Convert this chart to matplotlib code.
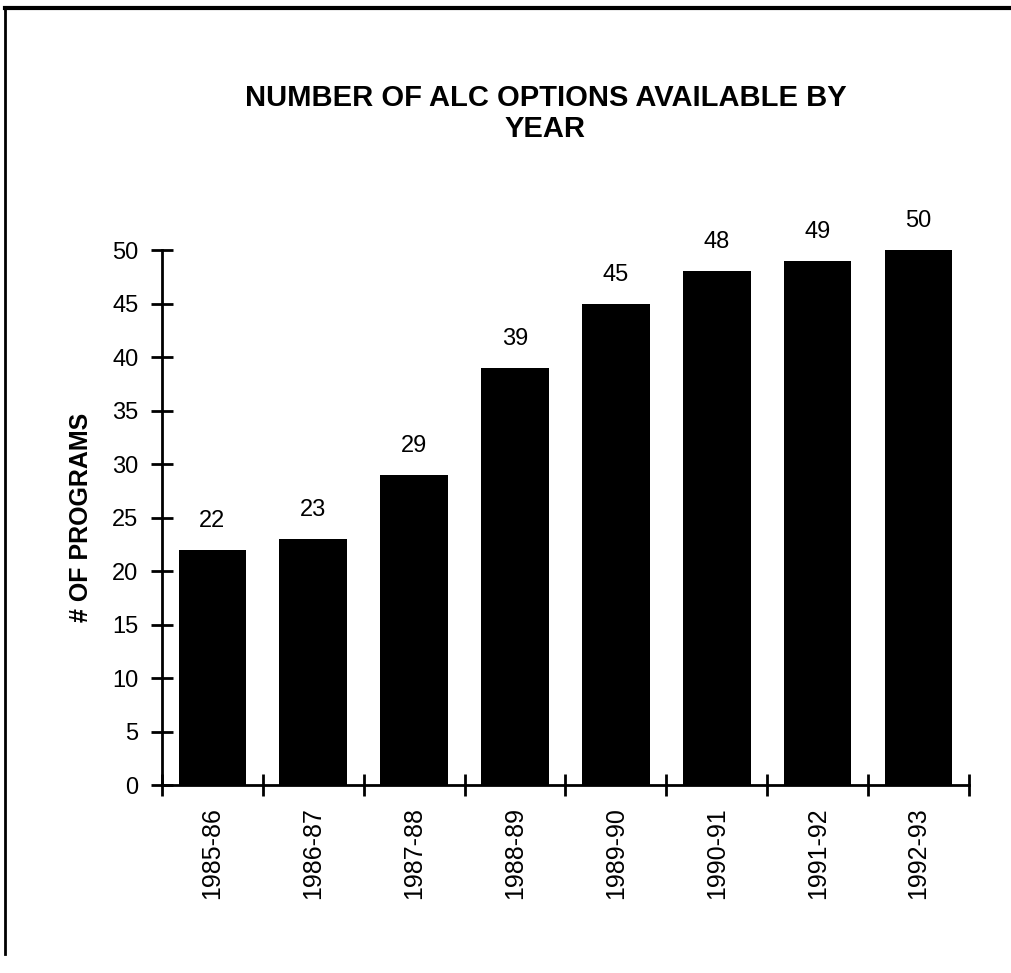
"""Number of ALC options available by year - bar chart recreation."""
import matplotlib
matplotlib.use("Agg")
import matplotlib.pyplot as plt
from matplotlib.lines import Line2D
import numpy as np

years = ["1985-86", "1986-87", "1987-88", "1988-89",
         "1989-90", "1990-91", "1991-92", "1992-93"]
programs = [22, 23, 29, 39, 45, 48, 49, 50]
y_ticks = [0, 5, 10, 15, 20, 25, 30, 35, 40, 45, 50]

plt.rcParams["font.family"] = ["Liberation Sans", "DejaVu Sans"]

fig = plt.figure(figsize=(10.12, 9.73), dpi=100)
ax = fig.add_axes([0.160, 0.193, 0.7975, 0.550])

x = np.arange(len(years))
ax.bar(x, programs, width=0.67, color="black", zorder=2)

for xi, v in zip(x, programs):
    ax.annotate(str(v), (xi, v), xytext=(0, 13), textcoords="offset points",
                ha="center", va="bottom", fontsize=17)

ax.set_xlim(-0.5, len(years) - 0.5)
ax.set_ylim(0, 50)
ax.set_yticks(y_ticks)
ax.set_yticklabels([str(t) for t in y_ticks], fontsize=17)
ax.tick_params(axis="y", direction="inout", length=16, width=2, pad=9)

# labels at bar centres, tick marks at category boundaries
ax.set_xticks(x)
ax.set_xticklabels(years, rotation=90, fontsize=18)
ax.tick_params(axis="x", which="major", length=0, pad=16)
ax.set_xticks(np.arange(len(years) + 1) - 0.5, minor=True)
ax.tick_params(axis="x", which="minor", direction="inout", length=16, width=2)

ax.set_ylabel("# OF PROGRAMS", fontsize=18, fontweight="bold", labelpad=14)

for side in ["top", "right"]:
    ax.spines[side].set_visible(False)
for side in ["left", "bottom"]:
    ax.spines[side].set_linewidth(2)

fig.text(0.539, 0.883, "NUMBER OF ALC OPTIONS AVAILABLE BY\nYEAR",
         ha="center", va="center", fontsize=21, fontweight="bold",
         linespacing=1.15)

# page border from the scan
fig.add_artist(Line2D([0.005, 0.005], [0.02, 0.992], color="black", lw=2))
fig.add_artist(Line2D([0.005, 1.0], [0.992, 0.992], color="black", lw=3))

fig.savefig("out.png", dpi=100)
